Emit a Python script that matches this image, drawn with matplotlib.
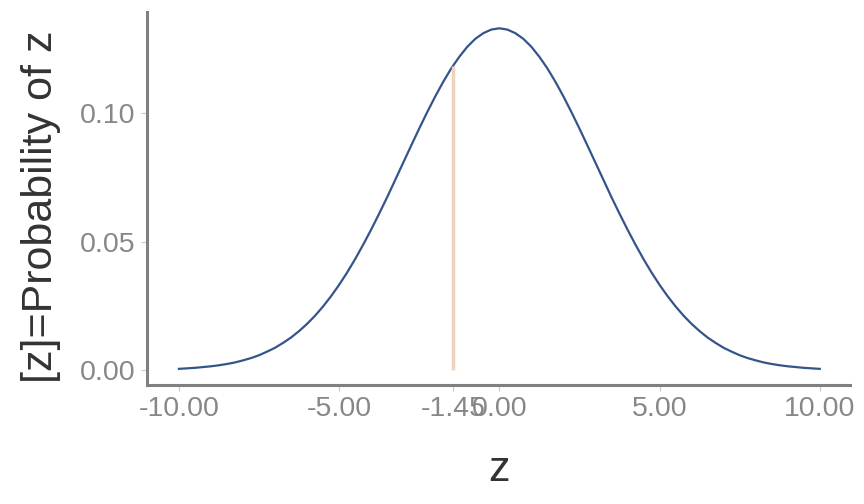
import numpy as np
import matplotlib.pyplot as plt

# density of z, every 0.25 from -10 to 10
z_vals = np.arange(-10, 10.25, 0.25)
half = [0.0005, 0.0007, 0.0009, 0.0012, 0.0015, 0.0019, 0.0024, 0.0030,
        0.0038, 0.0047, 0.0058, 0.0072, 0.0087, 0.0106, 0.0127, 0.0152,
        0.0180, 0.0212, 0.0248, 0.0288, 0.0332, 0.0380, 0.0432, 0.0488,
        0.0547, 0.0609, 0.0673, 0.0740, 0.0807, 0.0874, 0.0940, 0.1004,
        0.1065, 0.1122, 0.1174, 0.1219, 0.1258, 0.1289, 0.1311, 0.1325]
density = half + [0.1330] + half[::-1]

z_obs = -1.45
dens_obs = 0.1183

x_ticks = [-10, -5, -1.45, 0, 5, 10]
y_ticks = [0.00, 0.05, 0.10]

plt.rcParams['font.family'] = ['Liberation Sans', 'DejaVu Sans']

fig = plt.figure(figsize=(8.64, 5.04), dpi=100)
ax = fig.add_axes([0.170, 0.236, 0.814, 0.740])

ax.plot(z_vals, density, color='#34558b', linewidth=1.6)
ax.vlines(z_obs, 0, dens_obs, color='#f0d2bf', linewidth=2.5)

ax.set_xlim(-11, 10.95)
ax.set_ylim(-0.0058, 0.1393)
ax.set_xticks(x_ticks)
ax.set_xticklabels([f"{t:.2f}" for t in x_ticks])
ax.set_yticks(y_ticks)
ax.set_yticklabels([f"{t:.2f}" for t in y_ticks])

for s in ['top', 'right']:
    ax.spines[s].set_visible(False)
for s in ['left', 'bottom']:
    ax.spines[s].set_color('#808080')
    ax.spines[s].set_linewidth(2.2)

ax.tick_params(colors='#c8c8c8', labelcolor='#878787', labelsize=20.5, length=4, width=0.8, pad=4)
ax.set_xlabel('z', fontsize=31, color='#333333', labelpad=20)
ax.set_ylabel('[z]=Probability of z', fontsize=31, color='#333333')
ax.yaxis.set_label_coords(-0.122, 0.477)

fig.savefig('out.png', dpi=100)
